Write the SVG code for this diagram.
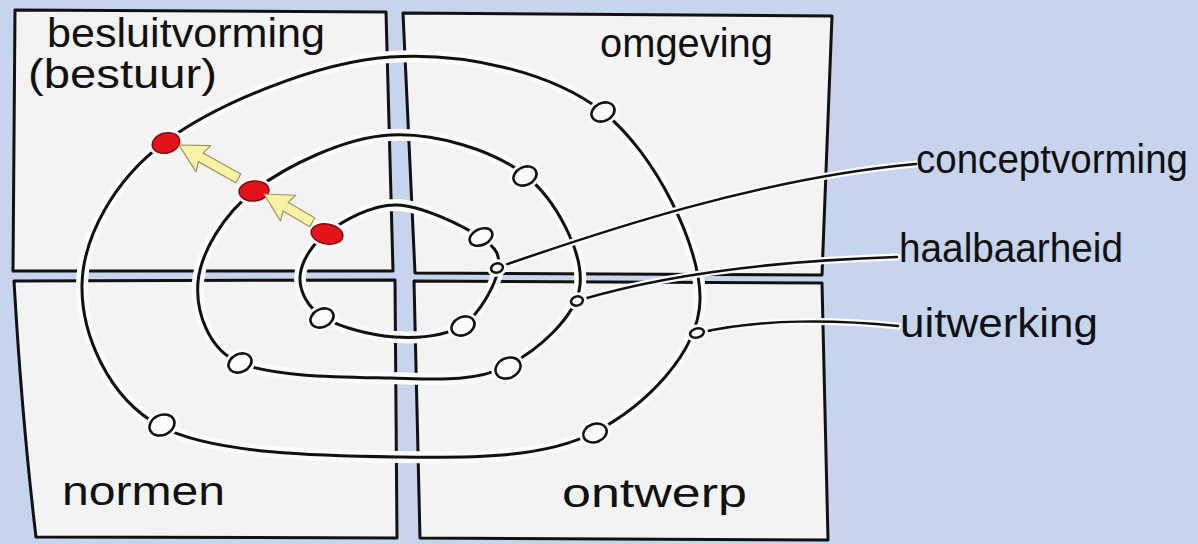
<svg xmlns="http://www.w3.org/2000/svg" width="1198" height="544" viewBox="0 0 1198 544">
<defs>
<style>
.panel{fill:#f3f3f3;stroke:#111;stroke-width:3;stroke-linejoin:round}
.halo{fill:none;stroke:#fbfbfb;stroke-width:12}
.ring{fill:none;stroke:#111;stroke-width:3}
.lead-halo{fill:none;stroke:#fbfbfb;stroke-width:7;stroke-linecap:round}
.lead{fill:none;stroke:#111;stroke-width:2.5;stroke-linecap:round}
.node{fill:#fbfbfb;stroke:#111;stroke-width:2.5}
.nhalo{fill:#fbfbfb;stroke:#fbfbfb;stroke-width:8}
.red{fill:#e3121b;stroke:#8a0a0a;stroke-width:1.5}
.rhalo{fill:#fbfbfb;stroke:#fbfbfb;stroke-width:7}
.arrow{fill:#f7f2a4;stroke:#9c9660;stroke-width:1.2;stroke-linejoin:round}
.lbl{font-family:"Liberation Sans",Arial,sans-serif;font-size:40px;fill:#111}
</style>
</defs>
<rect width="1198" height="544" fill="#c6d4ed"/>

<g id="quadrant-besluitvorming">
<path class="panel" d="M15,10 L386,12 L393,271 L13,271 Z"/>
<text class="lbl" x="47" y="47" textLength="278" lengthAdjust="spacingAndGlyphs">besluitvorming</text>
<text class="lbl" x="28" y="88" textLength="189" lengthAdjust="spacingAndGlyphs">(bestuur)</text>
</g>
<g id="quadrant-omgeving">
<path class="panel" d="M403,13 L832,16 L822,275 L415,273 Z"/>
<text class="lbl" x="600" y="57" textLength="173" lengthAdjust="spacingAndGlyphs">omgeving</text>
</g>
<g id="quadrant-normen">
<path class="panel" d="M14,281 L395,280 L397,538 L36,537 Q22,420 14,281 Z"/>
<text class="lbl" x="62" y="505" textLength="163" lengthAdjust="spacingAndGlyphs">normen</text>
</g>
<g id="quadrant-ontwerp">
<path class="panel" d="M414,281 L822,283 L828,540 L420,538 Z"/>
<text class="lbl" x="562" y="507" textLength="185" lengthAdjust="spacingAndGlyphs">ontwerp</text>
</g>

<g id="ring-outer">
<path class="halo" d="M82,285 C82.8,237.7 113.7,180 165,142 C216.3,104 317,62 390,57 C463,52 551.3,71.5 603,112 C654.7,152.5 701.3,246.7 700,300 C698.7,353.3 645,405.8 595,432 C545,458.2 472.5,458 400,457 C327.5,456 213,454.7 160,426 C107,397.3 81.2,332.3 82,285 Z"/>
<path class="ring" d="M82,285 C82.8,237.7 113.7,180 165,142 C216.3,104 317,62 390,57 C463,52 551.3,71.5 603,112 C654.7,152.5 701.3,246.7 700,300 C698.7,353.3 645,405.8 595,432 C545,458.2 472.5,458 400,457 C327.5,456 213,454.7 160,426 C107,397.3 81.2,332.3 82,285 Z"/>
</g>
<g id="ring-middle">
<path class="halo" d="M198,282 C200.5,253.2 223,214.5 255,190 C287,165.5 345,137.5 390,135 C435,132.5 493.3,150 525,175 C556.7,200 583.3,253 580,285 C576.7,317 536.7,351.5 505,367 C473.3,382.5 434.2,379 390,378 C340,377 275,377 240,363 C208,350 195.5,310.8 198,282 Z"/>
<path class="ring" d="M198,282 C200.5,253.2 223,214.5 255,190 C287,165.5 345,137.5 390,135 C435,132.5 493.3,150 525,175 C556.7,200 583.3,253 580,285 C576.7,317 536.7,351.5 505,367 C473.3,382.5 434.2,379 390,378 C340,377 275,377 240,363 C208,350 195.5,310.8 198,282 Z"/>
</g>
<g id="ring-inner">
<path class="halo" d="M300,277 C300.7,263 310.8,245 327,233 C343.2,221 371.5,204.3 397,205 C422.5,205.7 463.2,226.2 480,237 C496.8,247.8 500.8,255.3 498,270 C495.2,284.7 480.2,313.8 463,325 C445.8,336.2 418.3,338.3 395,337 C371.7,335.7 338.8,327 323,317 C307.2,307 299.3,291 300,277 Z"/>
<path class="ring" d="M300,277 C300.7,263 310.8,245 327,233 C343.2,221 371.5,204.3 397,205 C422.5,205.7 463.2,226.2 480,237 C496.8,247.8 500.8,255.3 498,270 C495.2,284.7 480.2,313.8 463,325 C445.8,336.2 418.3,338.3 395,337 C371.7,335.7 338.8,327 323,317 C307.2,307 299.3,291 300,277 Z"/>
</g>

<g id="connectors">
<path class="lead-halo" d="M499,267 C600,232 760,178 916,164"/>
<path class="lead" d="M499,267 C600,232 760,178 916,164"/>
<path class="lead-halo" d="M580,300 C640,282 740,262 897,257"/>
<path class="lead" d="M580,300 C640,282 740,262 897,257"/>
<path class="lead-halo" d="M699,333 C760,318 840,320 898,326"/>
<path class="lead" d="M699,333 C760,318 840,320 898,326"/>
</g>

<g id="nodes-outer">
<g id="n-o1" transform="translate(603,112) rotate(-25)"><ellipse class="nhalo" rx="12" ry="9"/><ellipse class="node" rx="12" ry="9"/></g>
<g id="n-o2" transform="translate(595,433) rotate(-20)"><ellipse class="nhalo" rx="12" ry="9"/><ellipse class="node" rx="12" ry="9"/></g>
<g id="n-o3" transform="translate(162,425) rotate(-25)"><ellipse class="nhalo" rx="13" ry="10"/><ellipse class="node" rx="13" ry="10"/></g>
<g id="n-o4" transform="translate(697,333) rotate(-15)"><ellipse class="nhalo" rx="7" ry="4.5"/><ellipse class="node" rx="7" ry="4.5"/></g>
</g>
<g id="nodes-middle">
<g id="n-m1" transform="translate(525,176) rotate(-25)"><ellipse class="nhalo" rx="12" ry="9"/><ellipse class="node" rx="12" ry="9"/></g>
<g id="n-m2" transform="translate(508,368) rotate(-25)"><ellipse class="nhalo" rx="13" ry="10"/><ellipse class="node" rx="13" ry="10"/></g>
<g id="n-m3" transform="translate(240,363) rotate(-25)"><ellipse class="nhalo" rx="12" ry="9"/><ellipse class="node" rx="12" ry="9"/></g>
<g id="n-m4" transform="translate(577,301) rotate(-15)"><ellipse class="nhalo" rx="6" ry="4.5"/><ellipse class="node" rx="6" ry="4.5"/></g>
</g>
<g id="nodes-inner">
<g id="n-i1" transform="translate(481,237) rotate(-25)"><ellipse class="nhalo" rx="12" ry="8"/><ellipse class="node" rx="12" ry="8"/></g>
<g id="n-i2" transform="translate(463,326) rotate(-25)"><ellipse class="nhalo" rx="12" ry="9"/><ellipse class="node" rx="12" ry="9"/></g>
<g id="n-i3" transform="translate(322,318) rotate(-25)"><ellipse class="nhalo" rx="12" ry="9"/><ellipse class="node" rx="12" ry="9"/></g>
<g id="n-i4" transform="translate(497,268) rotate(-15)"><ellipse class="nhalo" rx="6" ry="4.5"/><ellipse class="node" rx="6" ry="4.5"/></g>
</g>

<g id="red-points">
<g id="r-outer" transform="translate(166,143) rotate(-15)"><ellipse class="rhalo" rx="14" ry="10"/><ellipse class="red" rx="14" ry="10"/></g>
<g id="r-middle" transform="translate(254,191) rotate(-5)"><ellipse class="rhalo" rx="15" ry="10"/><ellipse class="red" rx="15" ry="10"/></g>
<g id="r-inner" transform="translate(327,234) rotate(10)"><ellipse class="rhalo" rx="16" ry="10"/><ellipse class="red" rx="16" ry="10"/></g>
</g>

<g id="arrows">
<path class="arrow" transform="translate(264,194) rotate(210.4)" d="M0,0 L-28,-15 L-25,-5 L-56,-5 L-56,5 L-25,5 L-28,15 Z"/>
<path class="arrow" transform="translate(179,145) rotate(209.4)" d="M0,0 L-28,-15 L-25,-5 L-68,-5 L-68,5 L-25,5 L-28,15 Z"/>
</g>

<g id="callout-conceptvorming"><text class="lbl" x="916" y="173" textLength="272" lengthAdjust="spacingAndGlyphs">conceptvorming</text></g>
<g id="callout-haalbaarheid"><text class="lbl" x="899" y="262" textLength="224" lengthAdjust="spacingAndGlyphs">haalbaarheid</text></g>
<g id="callout-uitwerking"><text class="lbl" x="900" y="337" textLength="198" lengthAdjust="spacingAndGlyphs">uitwerking</text></g>
</svg>
